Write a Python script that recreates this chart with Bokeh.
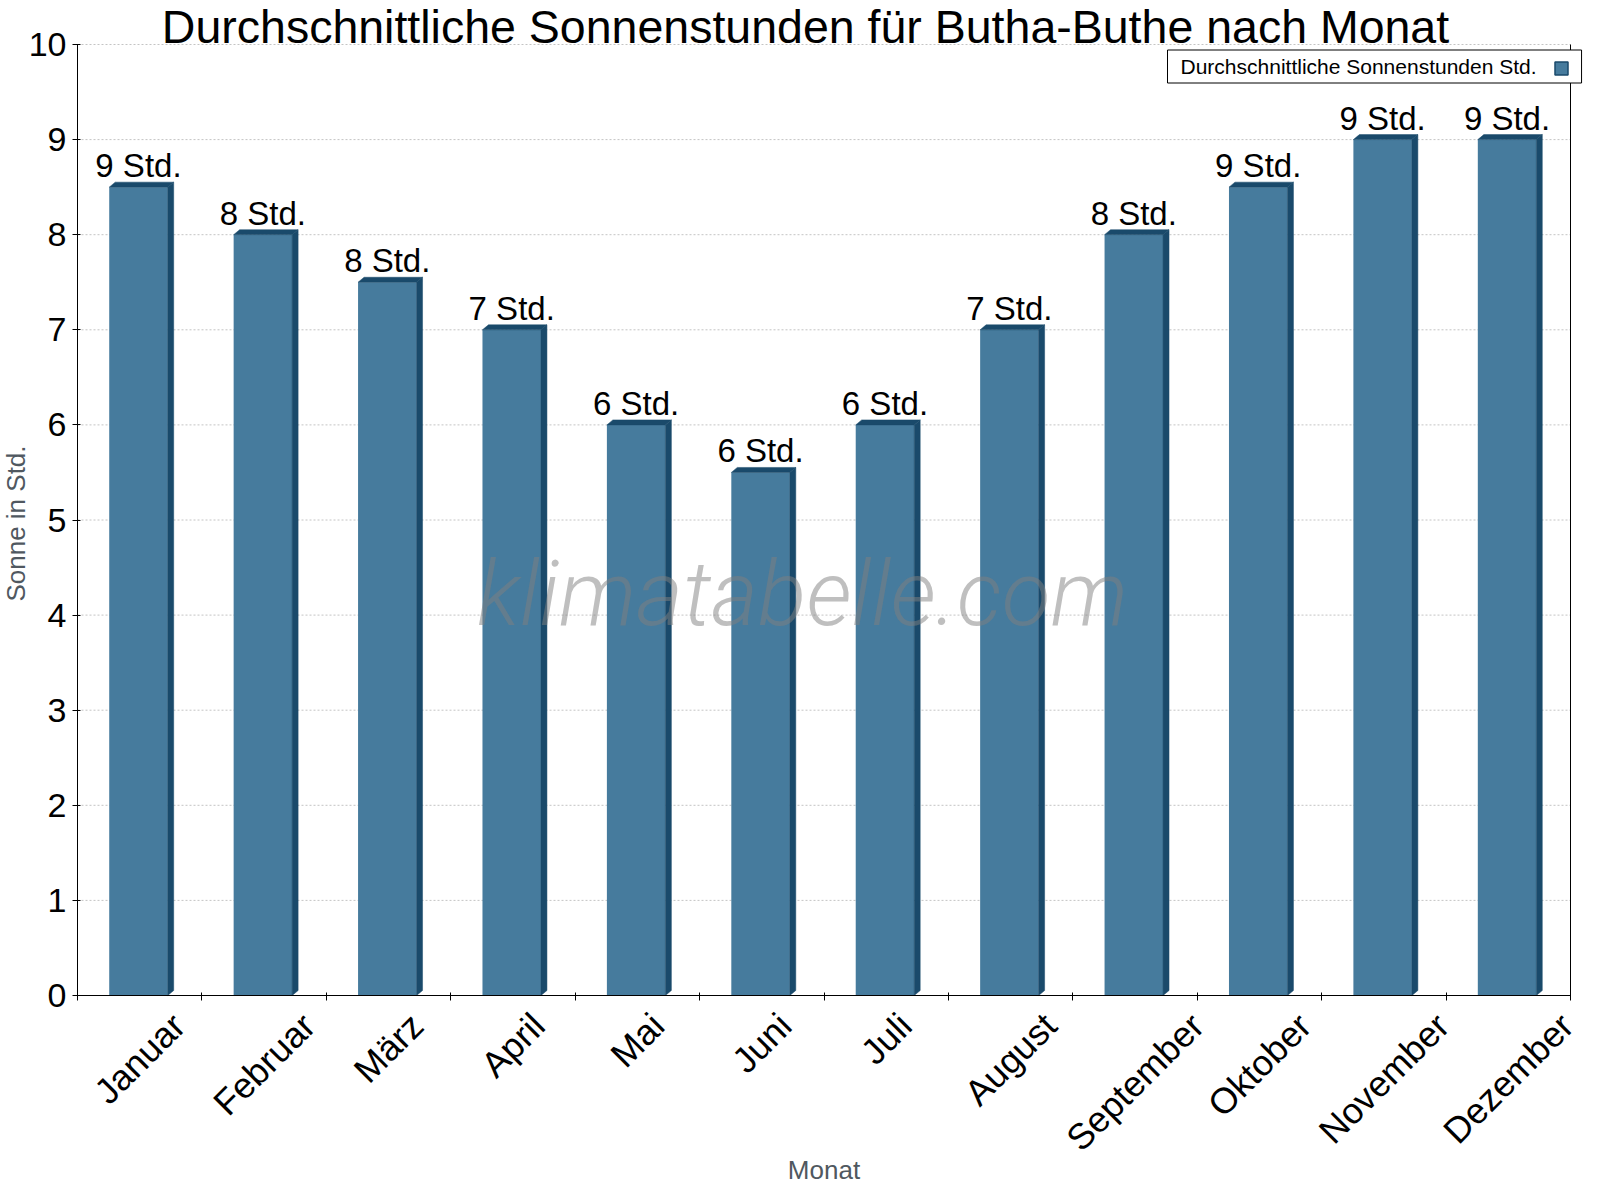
import math
import numpy as np
from bokeh.plotting import figure
from bokeh.models import ColumnDataSource, LabelSet, Label, FixedTicker, LinearAxis, Range1d
from bokeh.core.properties import value
from bokeh.embed import file_html
from bokeh.resources import INLINE

# ---------------- data ----------------
months = ["Januar", "Februar", "März", "April", "Mai", "Juni",
          "Juli", "August", "September", "Oktober", "November", "Dezember"]
sun_hours = [8.5, 8, 7.5, 7, 6, 5.5, 6, 7, 8, 8.5, 9, 9]
y_ticks = [0, 1, 2, 3, 4, 5, 6, 7, 8, 9, 10]
title_text = "Durchschnittliche Sonnenstunden für Butha-Buthe nach Monat"
legend_text = "Durchschnittliche Sonnenstunden Std."
x_title = "Monat"
y_title = "Sonne in Std."
watermark = "klimatabelle.com"
unit = "Std."

bar_labels = [f"{math.floor(v + 0.5)} {unit}" for v in sun_hours]

# ---------------- layout / style ----------------
FONT = "Liberation Sans"
FRONT = "#467B9D"
DARK = "#1A4A6B"
GREY = "#505860"
W, H = 1584, 1184
n = len(months)
y_max = y_ticks[-1]
# pixel position of the plotting area inside the canvas
X0, X1 = 77, 1570      # x = 0 and x = n
Y0, Y1 = 995, 44       # y = 0 and y = y_max
px_x = (X1 - X0) / n
px_y = (Y0 - Y1) / y_max


def dxp(px):
    return (px - X0) / px_x


def dyp(py):
    return (Y0 - py) / px_y


p = figure(width=W, height=H,
           x_range=Range1d(dxp(0), dxp(W)), y_range=Range1d(dyp(H), dyp(0)),
           output_backend="svg", toolbar_location=None,
           min_border=0, min_border_left=0, min_border_right=0,
           min_border_top=0, min_border_bottom=0)
p.outline_line_color = None
p.background_fill_color = "white"
p.border_fill_color = "white"
p.xgrid.visible = False
p.ygrid.visible = False

# axes (fixed inside the canvas)
p.xaxis.fixed_location = 0
p.xaxis.bounds = (0, n)
p.xaxis.ticker = FixedTicker(ticks=[], minor_ticks=list(range(n + 1)))
p.xaxis.minor_tick_out = 5
p.xaxis.minor_tick_in = 3
p.xaxis.minor_tick_line_color = "black"
p.xaxis.axis_line_color = "black"

p.yaxis.fixed_location = 0
p.yaxis.bounds = (y_ticks[0], y_max)
p.yaxis.ticker = FixedTicker(ticks=y_ticks)
p.yaxis.major_label_text_font = FONT
p.yaxis.major_label_text_font_size = "34px"
p.yaxis.major_label_text_color = "black"
p.yaxis.major_label_standoff = 6
p.yaxis.major_tick_out = 5
p.yaxis.major_tick_in = 3
p.yaxis.minor_tick_line_color = None
p.yaxis.axis_line_color = "black"
p.yaxis.major_tick_line_color = "black"

right_axis = LinearAxis(fixed_location=n, bounds=(y_ticks[0], y_max),
                        ticker=FixedTicker(ticks=[]),
                        major_tick_line_color=None, minor_tick_line_color=None,
                        axis_line_color="black")
p.add_layout(right_axis, "right")

# dotted horizontal grid lines
grid_y = y_ticks[1:]
p.segment(x0=[0] * len(grid_y), x1=[n] * len(grid_y), y0=grid_y, y1=grid_y,
          line_color="#c4c4c4", line_dash="2 2", line_width=1)

# ---------------- bars (3D look) ----------------
centers = np.arange(n) + 0.49
bar_w = 0.47
ddx = 6 / px_x
ddy = 5 / px_y

src = ColumnDataSource(dict(x=centers, top=sun_hours, label=bar_labels))
p.vbar(x="x", top="top", bottom=0, width=bar_w, source=src, fill_color=FRONT, line_color=None)

side_xs = [[c + bar_w / 2, c + bar_w / 2 + ddx, c + bar_w / 2 + ddx, c + bar_w / 2] for c in centers]
side_ys = [[0, ddy, v + ddy, v] for v in sun_hours]
top_xs = [[c - bar_w / 2, c - bar_w / 2 + ddx, c + bar_w / 2 + ddx, c + bar_w / 2] for c in centers]
top_ys = [[v, v + ddy, v + ddy, v] for v in sun_hours]
p.patches(xs=side_xs + top_xs, ys=side_ys + top_ys, fill_color=DARK, line_color=DARK, line_width=0.5)

# value labels
p.add_layout(LabelSet(x="x", y="top", text="label", source=src, y_offset=10,
                      text_align="center", text_baseline="alphabetic",
                      text_font=value(FONT), text_font_size="33px", text_color="black"))

# month labels (rotated 45°, centred under each category)
ARIAL = {"J": 500, "a": 556, "n": 556, "u": 556, "r": 333, "F": 611, "e": 556, "b": 556,
         "M": 833, "ä": 556, "z": 500, "A": 667, "p": 556, "i": 222, "l": 222, "g": 556,
         "s": 500, "t": 278, "S": 667, "m": 833, "O": 778, "k": 500, "o": 556, "N": 722,
         "v": 500, "D": 722}
month_fs = 36


def text_w(s, size):
    return sum(ARIAL.get(ch, 556) for ch in s) / 1000 * size


month_off = [-(15 + 0.3536 * (text_w(m, month_fs) + 0.716 * month_fs)) for m in months]
msrc = ColumnDataSource(dict(x=np.arange(n) + 0.5, y=[0] * n, text=months, off=month_off))
p.add_layout(LabelSet(x="x", y="y", text="text", source=msrc, y_offset="off",
                      angle=math.pi / 4, text_align="center", text_baseline="middle",
                      text_font=value(FONT), text_font_size=f"{month_fs}px", text_color="black"))

# title
p.add_layout(Label(x=dxp(805), y=dyp(26), text=title_text,
                   text_align="center", text_baseline="middle",
                   text_font=FONT, text_font_size="46.5px", text_color="black"))

# axis titles
p.add_layout(Label(x=dxp(15), y=dyp(523), text=y_title,
                   angle=math.pi / 2, text_align="center", text_baseline="middle",
                   text_font=FONT, text_font_size="26px", text_color=GREY))
p.add_layout(Label(x=dxp((X0 + X1) / 2), y=dyp(1169), text=x_title,
                   text_align="center", text_baseline="middle",
                   text_font=FONT, text_font_size="26px", text_color=GREY))

# legend (box with swatch on the right)
p.add_layout(Label(x=dxp(1167), y=dyp(66), text=legend_text,
                   text_align="left", text_baseline="middle",
                   text_font=FONT, text_font_size="21px", text_color="black",
                   border_line_color="black", border_line_width=1,
                   background_fill_color="white",
                   padding=dict(left=13, right=45, top=5, bottom=5)))
p.scatter(x=[dxp(1561)], y=[dyp(68)], marker="square", level="overlay",
          size=13, fill_color=FRONT, line_color=DARK, line_width=1.5)

# watermark
p.add_layout(Label(x=dxp(802), y=dyp(594), text=watermark,
                   text_align="center", text_baseline="middle",
                   text_font="Roboto Light, Roboto", text_font_style="italic",
                   text_font_size="90px", text_color="#808080", text_alpha=0.5))

open("out.html", "w").write(file_html(p, INLINE))
